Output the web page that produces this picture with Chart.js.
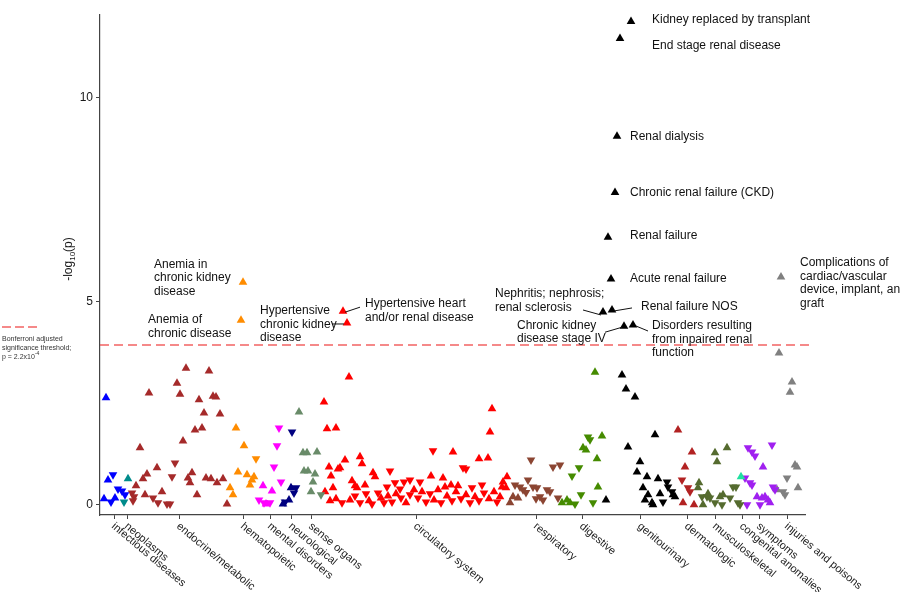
<!DOCTYPE html>
<html>
<head>
<meta charset="utf-8">
<script src="https://cdn.jsdelivr.net/npm/chart.js@4.4.1/dist/chart.umd.min.js"></script>
<style>
  html, body { margin: 0; padding: 0; background: #fff; }
  #wrap { width: 900px; height: 592px; }
</style>
</head>
<body>
<div id="wrap"><canvas id="phewas" width="900" height="592"></canvas></div>
<script>
// phenotype groups along the x axis: [position, -log10(p), 1 = up / 0 = down]
const infectious = [[6,2.63,1],[13,0.74,0],[8,0.61,1],[18,0.39,0],[22,0.34,0],[15,0.17,1],[11,0.07,0],[25,0.25,0],[4,0.15,1]];
const neoplasms = [[28,0.64,1],[24,0.07,0]];
const endocrine = [[86,3.36,1],[109,3.29,1],[77,2.99,1],[49,2.75,1],[80,2.72,1],[99,2.58,1],[113,2.67,1],[116,2.65,1],
  [104,2.26,1],[120,2.23,1],[95,1.84,1],[102,1.89,1],[83,1.57,1],[40,1.40,1],[75,1.03,0],[57,0.91,1],[72,0.69,0],
  [47,0.76,1],[43,0.64,1],[92,0.79,1],[88,0.66,1],[90,0.54,1],[106,0.66,1],[111,0.64,1],[123,0.64,1],[117,0.54,1],
  [36,0.47,1],[62,0.32,1],[45,0.25,1],[32,0.29,0],[34,0.20,0],[33,0.10,0],[53,0.17,0],[58,0.05,0],[67,0.02,0],
  [70,0.02,0],[97,0.25,1],[127,0.02,1]];
const hematopoietic = [[143,5.47,1],[141,4.54,1],[136,1.89,1],[144,1.45,1],[156,1.13,0],[138,0.81,1],[147,0.74,1],
  [152,0.61,1],[154,0.69,1],[150,0.49,1],[130,0.42,1],[133,0.25,1]];
const mental = [[179,1.89,0],[177,1.45,0],[174,0.93,0],[181,0.56,0],[163,0.47,1],[172,0.34,1],[159,0.12,0],[164,0.05,0],[170,0.05,0],[166,0.02,1]];
const neurological = [[192,1.79,0],[196,0.42,0],[191,0.42,1],[194,0.29,0],[185,0.07,0],[189,0.12,1],[183,0.02,1]];
const senseOrgans = [[199,2.28,1],[203,1.28,1],[207,1.28,1],[217,1.30,1],[204,0.83,1],[208,0.83,1],[215,0.76,1],[213,0.56,1],[211,0.32,1],[221,0.25,0]];
const circulatory = [[243,4.76,1],[247,4.47,1],[249,3.14,1],[224,2.53,1],[227,1.87,1],[236,1.89,1],[392,2.36,1],[390,1.79,1],
  [245,1.10,1],[229,0.93,1],[240,0.91,1],[238,0.88,1],[260,1.18,1],[262,1.01,1],[231,0.71,1],[233,0.42,1],[252,0.59,1],
  [255,0.47,1],[257,0.42,1],[273,0.79,1],[275,0.69,1],[290,0.83,0],[304,0.56,0],[300,0.39,0],[333,1.33,0],[353,1.30,1],
  [379,1.13,1],[388,1.15,1],[363,0.91,0],[366,0.88,0],[331,0.71,1],[343,0.66,1],[351,0.49,1],[358,0.47,1],[372,0.42,0],
  [382,0.49,0],[345,0.44,1],[407,0.69,1],[403,0.56,1],[402,0.44,1],[406,0.42,1],
  [236,0.15,1],[242,0.05,0],[250,0.12,1],[255,0.22,0],[260,0.05,0],[266,0.27,0],[269,0.10,1],[272,0.02,0],[278,0.29,0],
  [281,0.17,1],[284,0.05,0],[288,0.22,1],[292,0.07,0],[296,0.27,1],[301,0.17,0],[306,0.05,1],[310,0.25,0],[314,0.37,1],
  [318,0.17,0],[322,0.32,1],[326,0.07,0],[330,0.27,0],[334,0.12,1],[338,0.37,1],[341,0.05,0],[347,0.22,1],[352,0.10,0],
  [356,0.32,1],[361,0.15,0],[366,0.25,1],[370,0.05,0],[375,0.20,1],[379,0.10,0],[384,0.29,0],[389,0.15,1],[394,0.32,1],
  [397,0.07,0],[400,0.20,1],[287,0.44,0],[295,0.54,0],[320,0.56,0],[225,0.32,1],[230,0.10,1],[265,0.49,1],[310,0.61,0]];
const respiratory = [[431,1.10,0],[453,0.93,0],[460,0.98,0],[428,0.61,0],[433,0.44,0],[437,0.42,0],[415,0.49,0],[420,0.44,0],
  [423,0.37,0],[413,0.20,1],[418,0.17,1],[447,0.37,0],[450,0.32,0],[458,0.17,0],[443,0.12,0],[440,0.20,0],[410,0.05,1],
  [426,0.30,0],[436,0.15,0]];
const digestive = [[495,3.26,1],[488,1.67,0],[490,1.60,0],[502,1.69,1],[483,1.40,1],[486,1.35,1],[497,1.13,1],[479,0.91,0],
  [472,0.71,0],[498,0.44,1],[481,0.25,0],[493,0.05,0],[462,0.05,1],[467,0.12,1],[470,0.05,1],[475,0.02,0]];
const genitourinary = [[531,11.88,1],[520,11.46,1],[517,9.06,1],[515,7.68,1],[508,6.58,1],[511,5.55,1],[503,4.74,1],[512,4.79,1],
  [524,4.39,1],[533,4.42,1],[522,3.19,1],[526,2.85,1],[535,2.65,1],[555,1.72,1],[528,1.42,1],[540,1.06,1],[537,0.81,1],
  [547,0.69,1],[558,0.64,1],[567,0.56,0],[568,0.44,0],[572,0.32,0],[543,0.42,1],[548,0.25,1],[552,0.05,1],[553,0.00,1],
  [560,0.27,1],[563,0.07,0],[573,0.25,1],[575,0.20,1],[506,0.12,1],[545,0.12,1]];
const dermatologic = [[578,1.84,1],[592,1.30,1],[585,0.93,1],[582,0.61,0],[588,0.42,0],[590,0.32,0],[583,0.05,1],[594,0.00,1]];
const musculoskeletal = [[627,1.40,1],[615,1.28,1],[617,1.06,1],[599,0.54,1],[598,0.42,1],[602,0.20,0],[607,0.20,0],[610,0.17,0],
  [608,0.27,1],[620,0.20,1],[623,0.25,1],[630,0.17,0],[633,0.44,0],[636,0.44,0],[615,0.05,0],[622,0.00,0],[638,0.05,0],
  [640,0.00,0],[603,0.00,1]];
const congenital = [[641,0.69,1]];
const symptoms = [[672,1.47,0],[648,1.40,0],[652,1.30,0],[655,1.20,0],[663,0.93,1],[645,0.66,0],[650,0.54,0],[652,0.49,0],
  [673,0.44,0],[675,0.37,0],[657,0.20,1],[662,0.17,1],[665,0.20,1],[668,0.12,1],[670,0.05,1],[647,0.00,0],[660,0.00,0]];
const injuries = [[681,5.60,1],[679,3.73,1],[692,3.02,1],[690,2.77,1],[695,0.98,1],[697,0.93,1],[687,0.66,0],[677,0.37,1],
  [683,0.32,0],[685,0.25,0],[698,0.42,1]];

const groupNames = ['infectious diseases','neoplasms','endocrine/metabolic','hematopoietic','mental disorders','neurological',
  'sense organs','circulatory system','respiratory','digestive','genitourinary','dermatologic','musculoskeletal',
  'congenital anomalies','symptoms','injuries and poisons'];
const groupTicks = [14,27,79,143,170,191,211,316,436,482,540,587,615,642,659,687];
const groupColors = ['#0000FF','#008B8B','#A52A2A','#FF8C00','#FF00FF','#000080','#698B69','#FF0000','#8B4532','#458B00',
  '#000000','#B22222','#556B2F','#20E0A0','#A020F0','#808080'];
const groupData = [infectious,neoplasms,endocrine,hematopoietic,mental,neurological,senseOrgans,circulatory,respiratory,
  digestive,genitourinary,dermatologic,musculoskeletal,congenital,symptoms,injuries];

const yTicks = [0, 5, 10];
const threshold = 3.93;

// labels for the top hits: point, text lines, offset of text, optional leader line (offsets from point)
const callouts = [
  {pt:[531,11.88], lines:['Kidney replaced by transplant'], dx:21, dy:-2},
  {pt:[520,11.46], lines:['End stage renal disease'], dx:32, dy:7},
  {pt:[517,9.06], lines:['Renal dialysis'], dx:13, dy:0},
  {pt:[515,7.68], lines:['Chronic renal failure (CKD)'], dx:15, dy:0},
  {pt:[508,6.58], lines:['Renal failure'], dx:22, dy:-1},
  {pt:[511,5.55], lines:['Acute renal failure'], dx:19, dy:0},
  {pt:[503,4.74], lines:['Nephritis; nephrosis;','renal sclerosis'], dx:-108, dy:-18, lead:[-20,-2,-2,3]},
  {pt:[512,4.79], lines:['Renal failure NOS'], dx:29, dy:-3, lead:[20,-2,2,1]},
  {pt:[524,4.39], lines:['Chronic kidney','disease stage IV'], dx:-107, dy:-1, lead:[-19,6,-2,1]},
  {pt:[533,4.42], lines:['Disorders resulting','from inpaired renal','function'], dx:19, dy:1, lead:[3,1,15,6]},
  {pt:[681,5.60], lines:['Complications of','cardiac/vascular','device, implant, and','graft'], dx:19, dy:-14},
  {pt:[143,5.47], lines:['Anemia in','chronic kidney','disease'], dx:-89, dy:-18},
  {pt:[141,4.54], lines:['Anemia of','chronic disease'], dx:-93, dy:0},
  {pt:[247,4.47], lines:['Hypertensive','chronic kidney','disease'], dx:-87, dy:-12, lead:[-15,1,-3,1]},
  {pt:[243,4.76], lines:['Hypertensive heart','and/or renal disease'], dx:22, dy:-7, lead:[17,-4,2,1]}
];

const FONT = '"Liberation Sans", Arial, sans-serif';

const datasets = groupData.map((arr, i) => ({
  label: groupNames[i],
  data: arr.map(p => ({x: p[0], y: p[1], up: p[2]})),
  backgroundColor: groupColors[i],
  borderColor: groupColors[i],
  borderWidth: 0,
  pointStyle: 'triangle',
  pointRadius: 5,
  pointRotation: ctx => (ctx.raw && ctx.raw.up ? 0 : 180)
}));

const decorations = {
  id: 'decorations',
  beforeDatasetsDraw(chart) {
    const {ctx, scales: {y}, chartArea} = chart;
    const py = y.getPixelForValue(threshold);
    ctx.save();
    ctx.strokeStyle = 'rgba(240,70,70,0.85)';
    ctx.lineWidth = 1.6;
    ctx.setLineDash([9, 5]);
    ctx.beginPath();
    ctx.moveTo(chartArea.left, py);
    ctx.lineTo(chartArea.right + 5, py);
    ctx.stroke();
    ctx.restore();
  },
  afterDraw(chart) {
    const {ctx, scales: {x, y}, chartArea} = chart;
    ctx.save();

    // x axis group labels, rotated
    ctx.fillStyle = '#1a1a1a';
    ctx.font = '11px ' + FONT;
    ctx.textAlign = 'left';
    ctx.textBaseline = 'middle';
    groupTicks.forEach((t, i) => {
      const px = x.getPixelForValue(t);
      ctx.save();
      ctx.translate(px - 1, chartArea.bottom + 10);
      ctx.rotate(40 * Math.PI / 180);
      ctx.fillText(groupNames[i], 0, 0);
      ctx.restore();
    });

    // y axis title -log10(p)
    ctx.save();
    ctx.translate(68, 259);
    ctx.rotate(-Math.PI / 2);
    const a = '-log', b = '10', c = '(p)';
    ctx.font = '12px ' + FONT; const wa = ctx.measureText(a).width;
    ctx.font = '8px ' + FONT; const wb = ctx.measureText(b).width;
    ctx.font = '12px ' + FONT; const wc = ctx.measureText(c).width;
    let sx = -(wa + wb + wc) / 2;
    ctx.textAlign = 'left';
    ctx.textBaseline = 'alphabetic';
    ctx.fillText(a, sx, 4); sx += wa;
    ctx.font = '8px ' + FONT; ctx.fillText(b, sx, 7); sx += wb;
    ctx.font = '12px ' + FONT; ctx.fillText(c, sx, 4);
    ctx.restore();

    // callouts
    ctx.font = '12px ' + FONT;
    ctx.fillStyle = '#111';
    ctx.strokeStyle = '#111';
    ctx.lineWidth = 1;
    ctx.textBaseline = 'middle';
    callouts.forEach(cl => {
      const px = x.getPixelForValue(cl.pt[0]);
      const py = y.getPixelForValue(cl.pt[1]);
      cl.lines.forEach((ln, k) => ctx.fillText(ln, px + cl.dx, py + cl.dy + k * 13.5));
      if (cl.lead) {
        ctx.beginPath();
        ctx.moveTo(px + cl.lead[0], py + cl.lead[1]);
        ctx.lineTo(px + cl.lead[2], py + cl.lead[3]);
        ctx.stroke();
      }
    });

    // threshold legend at left
    ctx.strokeStyle = 'rgba(240,70,70,0.85)';
    ctx.lineWidth = 1.6;
    ctx.setLineDash([9, 4]);
    ctx.beginPath();
    ctx.moveTo(2, 327);
    ctx.lineTo(38, 327);
    ctx.stroke();
    ctx.setLineDash([]);
    ctx.fillStyle = '#333';
    ctx.font = '7px ' + FONT;
    ctx.textBaseline = 'middle';
    ctx.fillText('Bonferroni adjusted', 2, 339);
    ctx.fillText('significance threshold;', 2, 348);
    const base = 'p = 2.2x10';
    ctx.fillText(base, 2, 357);
    const wbase = ctx.measureText(base).width;
    ctx.font = '5px ' + FONT;
    ctx.fillText('-4', 2 + wbase, 354);
    ctx.restore();
  }
};

new Chart(document.getElementById('phewas'), {
  type: 'scatter',
  data: { datasets },
  options: {
    responsive: false,
    animation: false,
    devicePixelRatio: 1,
    layout: { padding: { top: 15, right: 95, left: 0, bottom: 0 } },
    plugins: { legend: { display: false }, tooltip: { enabled: false } },
    elements: { point: { hoverRadius: 5 } },
    scales: {
      x: {
        type: 'linear',
        min: 0,
        max: 705,
        afterBuildTicks: s => { s.ticks = groupTicks.map(v => ({value: v})); },
        afterFit: s => { s.height = 77; },
        ticks: { autoSkip: false, maxRotation: 0, callback: () => '' },
        grid: { drawOnChartArea: false, drawTicks: true, tickLength: 4, color: '#444' },
        border: { display: true, color: '#444', width: 1.2 }
      },
      y: {
        min: -0.25,
        max: 12.04,
        afterBuildTicks: s => { s.ticks = yTicks.map(v => ({value: v})); },
        afterFit: s => { s.width = 100; },
        ticks: { color: '#1a1a1a', font: { size: 12, family: FONT }, padding: 3 },
        grid: { drawOnChartArea: false, drawTicks: true, tickLength: 4, color: '#444' },
        border: { display: true, color: '#444', width: 1.2 }
      }
    }
  },
  plugins: [decorations]
});
</script>
</body>
</html>
